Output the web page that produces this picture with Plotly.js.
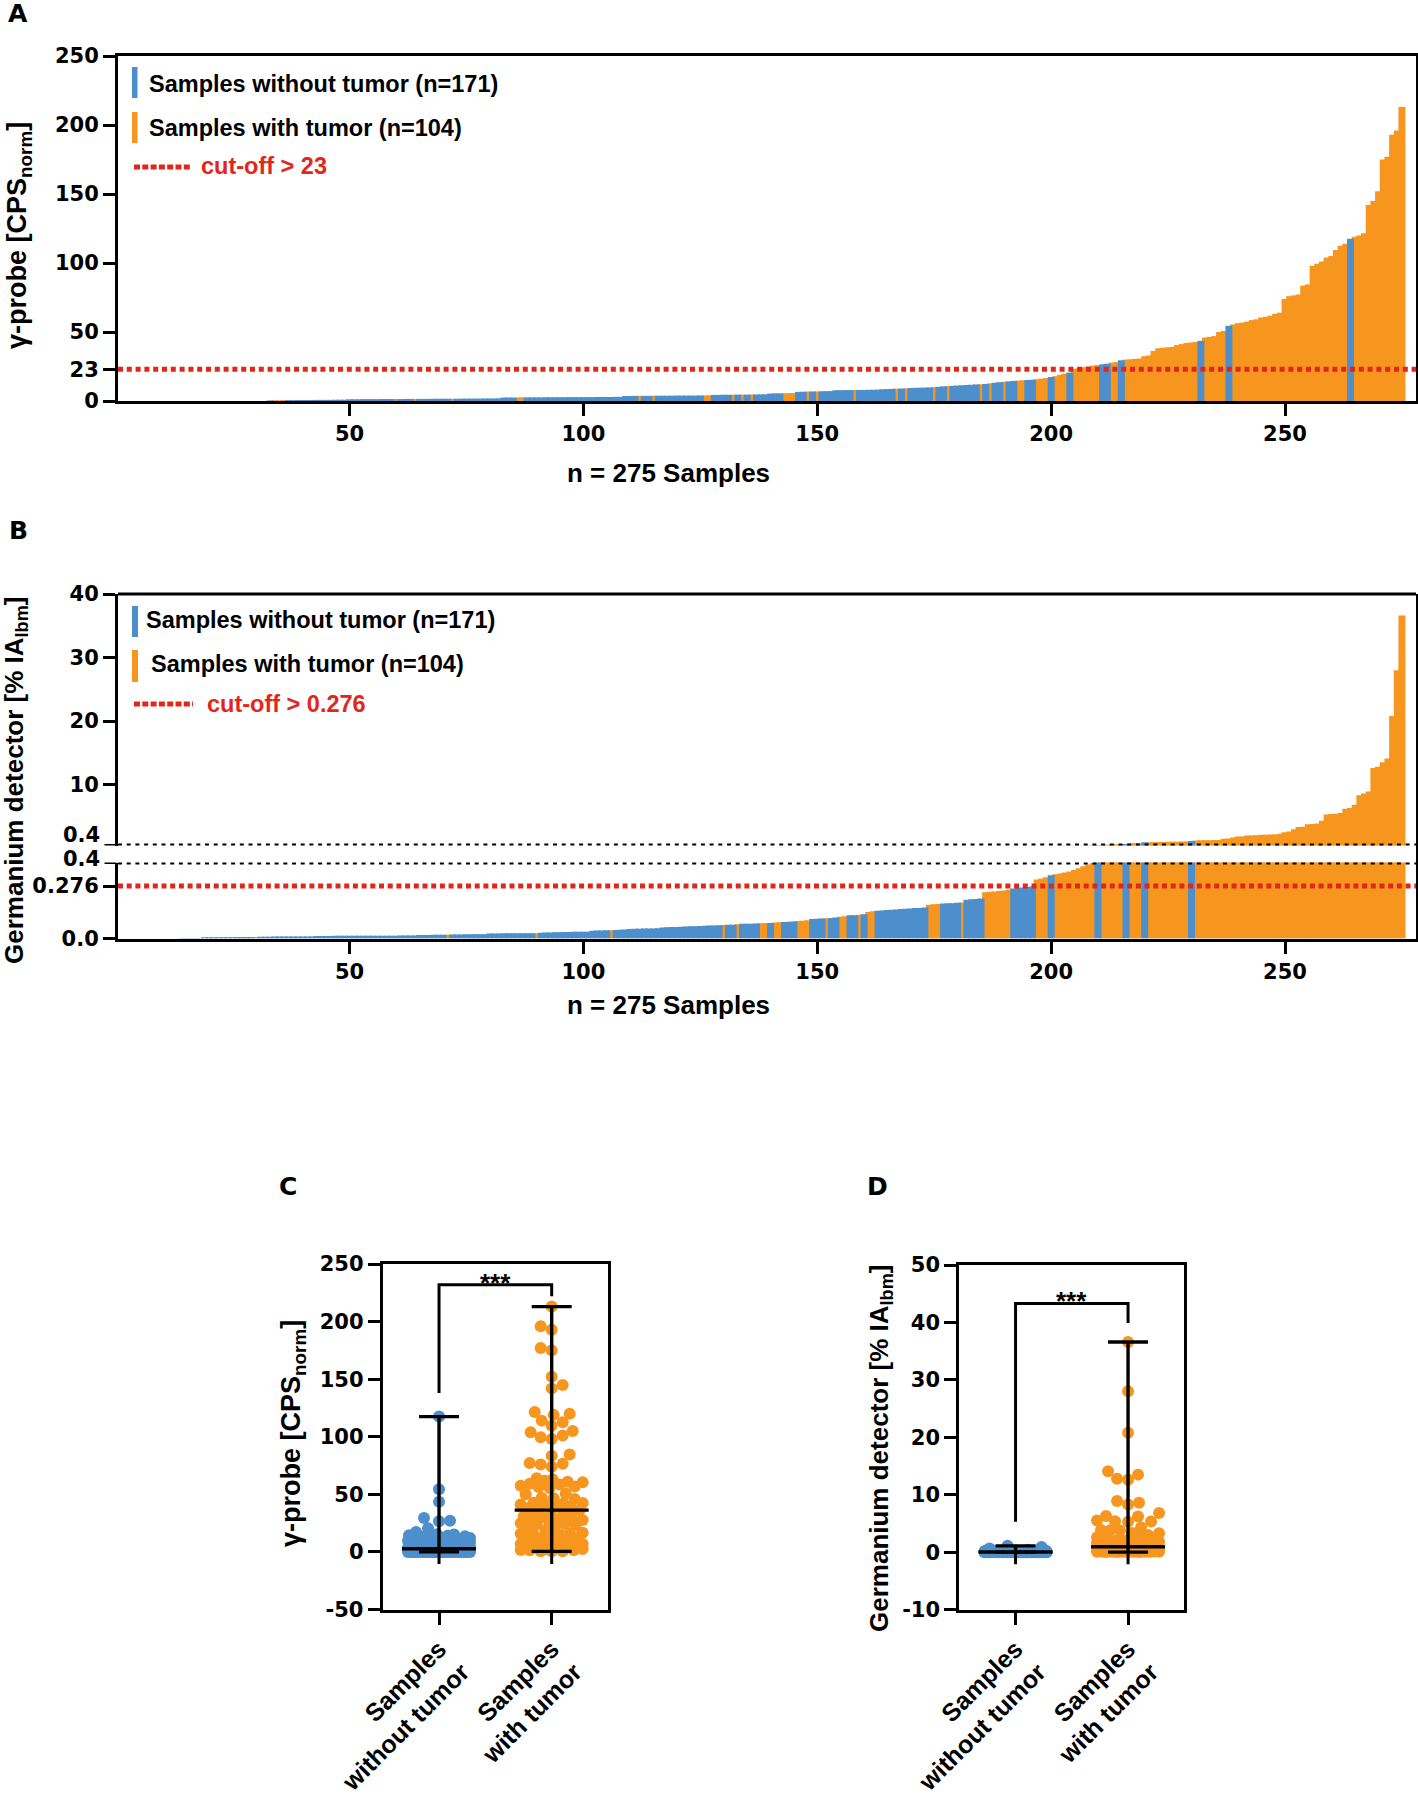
<!DOCTYPE html>
<html>
<head>
<meta charset="utf-8">
<script src="https://cdn.plot.ly/plotly-3.0.1.min.js"></script>
<style>html,body{margin:0;padding:0;background:#fff;}#chart{width:1418px;height:1794px;}</style>
</head>
<body>
<div id="chart"></div>
<script>
// ---------------- DATA ----------------
// Panel A: gamma-probe values of the 275 samples, sorted ascending (rank 1..275)
const gammaValues = [
  0,0,0,0,0,0,0,0,0,0,0,0,0,0,0,0,0,0,0,0,0,0,0,0,0,0,0,0,0,0,0,0,
  0.4,0.5,0.5,0.6,0.6,0.6,0.7,0.7,0.7,0.7,0.8,0.8,0.8,0.8,0.9,0.9,0.9,
  1.2,1.2,1.2,1.3,1.3,1.3,1.3,1.4,1.4,1.4,1.4,1.4,1.5,1.5,1.5,1.5,1.5,1.5,1.6,1.6,1.6,1.6,1.6,1.6,1.7,1.7,1.7,1.7,1.7,1.8,1.8,1.8,1.9,
  2.5,2.5,2.5,2.5,2.6,2.6,2.6,2.6,2.6,2.7,2.7,2.7,2.7,2.7,2.8,2.8,2.8,2.8,2.8,2.8,2.9,2.9,2.9,2.9,3.0,3.0,
  3.6,3.6,3.7,3.7,3.7,3.7,3.8,3.8,3.8,3.8,3.8,3.9,3.9,3.9,3.9,3.9,4.0,4.0,4.1,
  4.4,4.4,4.5,4.5,4.5,4.6,4.6,4.6,4.7,4.7,4.8,4.8,
  5.4,5.5,5.5,5.6,5.7,5.8,
  6.6,6.7,6.8,6.9,6.9,
  7.0,7.1,7.2,
  7.8,7.8,7.9,7.9,8.0,8.0,8.0,8.1,8.1,8.2,
  8.5,8.6,8.8,
  8.9,9.0,9.2,9.4,9.5,9.6,9.7,9.8,
  10.0,10.3,10.6,10.8,
  11.0,11.2,11.4,11.6,11.8,12.0,
  12.1,12.3,12.8,13.2,13.6,13.9,14.2,14.5,14.8,15.0,15.2,15.4,15.8,16.2,16.6,17.4,18.0,19.0,19.8,20.6,
  23.2,23.8,24.5,25.0,25.6,26.0,26.6,27.0,27.8,28.2,29.5,30.0,30.2,30.5,30.8,32.5,33.0,36.3,38.2,38.6,38.9,39.2,40.5,41.2,42.0,42.4,42.8,
  43.6,46.0,46.5,47.0,50.0,50.8,54.5,55.5,56.4,56.8,57.5,58.6,59.2,60.5,61.0,61.8,63.2,64.0,73.9,76.0,76.5,77.2,83.6,84.5,
  98.0,99.5,101.0,104.0,105.0,109.5,112.5,114.0,117.5,119.0,120.0,121.5,142.0,145.0,152.0,175.0,177.0,193.0,196.0,213.0
];
// ranks (in panel A order) of the samples with tumor
const gammaTumorRanks = [
  34,35,36,60,64,72,86,87,112,115,126,127,132,134,136,143,144,145,148,150,158,167,169,175,178,185,187,190,193,194,
  197,198,199,201,202,203,205,206,207,208,209,210,213,214,
  216,217,218,219,220,221,222,223,224,225,226,227,228,229,230,231,
  233,234,235,236,237,
  239,240,241,242,243,244,245,246,247,248,249,250,251,252,253,254,255,256,257,258,259,260,261,262,263,
  265,266,267,268,269,270,271,272,273,274,275
];

// Panel B: germanium detector values, sorted ascending (rank 1..275)
const germValues = [
  0,0,0,0,0,0,0,0,0,0,0,0,0,
  0.002,0.002,0.002,0.002,0.002,
  0.006,0.006,0.006,0.007,0.007,0.007,0.007,0.008,0.008,0.008,0.008,
  0.008,
  0.009,0.009,0.009,0.010,0.010,0.010,0.010,0.011,0.011,0.011,0.011,0.011,
  0.013,0.013,0.013,0.013,0.014,0.014,0.014,0.014,0.014,0.014,0.015,0.015,0.015,0.015,0.015,0.015,0.015,0.015,
  0.016,0.016,0.016,0.016,
  0.019,0.019,0.019,0.020,0.020,0.020,
  0.020,
  0.021,0.021,0.021,0.022,0.022,0.022,0.023,0.023,
  0.026,0.026,0.026,0.027,0.027,0.027,0.027,0.028,0.028,0.028,
  0.028,
  0.030,0.031,0.032,0.033,0.033,0.034,0.034,0.035,0.035,0.036,0.036,
  0.041,0.042,0.042,0.043,
  0.044,
  0.045,0.046,0.047,
  0.050,0.051,0.051,0.052,0.052,0.053,0.054,
  0.058,0.059,0.060,0.061,0.062,0.063,0.064,0.065,0.066,0.067,0.068,0.069,0.070,
  0.071,0.072,0.073,0.075,0.077,0.078,0.078,0.079,0.080,0.081,0.082,0.084,0.085,0.087,0.088,0.089,
  0.092,0.094,0.096,0.102,0.104,0.105,0.106,0.108,0.110,0.115,0.117,0.122,0.123,0.125,0.128,0.140,0.143,
  0.146,0.148,0.150,0.151,0.153,0.155,0.156,0.158,0.160,0.161,0.163,
  0.178,0.180,0.182,0.184,0.185,0.186,0.188,0.190,0.204,0.206,0.208,0.210,
  0.243,0.246,0.248,0.250,0.253,0.256,0.263,0.266,0.268,0.271,0.274,0.310,0.316,0.322,0.333,
  0.338,0.342,0.347,0.352,0.360,0.370,0.380,0.390,0.398,0.42,
  0.45,0.50,0.55,0.58,0.61,0.65,0.70,0.74,0.77,0.90,
  0.92,0.93,0.95,0.96,0.98,0.99,1.00,1.02,1.03,1.10,
  1.20,1.22,1.23,1.24,1.25,1.26,1.45,1.50,1.66,1.80,1.82,1.97,1.99,2.02,2.08,2.10,2.12,2.15,2.24,2.50,2.60,2.97,
  3.30,3.35,3.76,3.80,3.85,4.30,5.30,5.35,5.40,5.50,6.20,6.30,6.80,8.30,8.60,8.90,12.6,12.8,13.5,14.1,20.8,28.0,36.6
];
const germTumorRanks = [
  30,71,90,106,130,133,138,139,141,142,146,147,148,152,155,156,159,161,162,174,175,176,181,
  186,187,188,189,190,191,197,198,199,201,202,203,204,205,206,207,208,209,211,212,213,214,215,217,218,219,
  221,222,223,224,225,226,227,228,229,
  231,232,233,234,235,236,237,238,239,240,241,242,243,244,245,246,247,248,249,250,251,252,253,254,255,256,257,258,259,260,
  261,262,263,264,265,266,267,268,269,270,271,272,273,274,275
];

const groupLabels = ['Samples<br>without tumor', 'Samples<br>with tumor'];
const legendLabels = ['Samples without tumor (n=171)', 'Samples with tumor (n=104)'];
const gammaCutoff = 23;
const germCutoff = 0.276;
const germBreak = 0.4;
const sampleTicks = [50, 100, 150, 200, 250];
const gammaTicks = [0, 23, 50, 100, 150, 200, 250];
const germUpperTicks = [10, 20, 30, 40];
const germLowerTicks = [0, 0.276];
const germLowerTickText = ['0.0', '0.276'];
const breakLabel = '0.4';
const cTicks = [-50, 0, 50, 100, 150, 200, 250];
const cTickText = ['-50', '0', '50', '100', '150', '200', '250'];
const dTicks = [-10, 0, 10, 20, 30, 40, 50];
const dTickText = ['-10', '0', '10', '20', '30', '40', '50'];

if (gammaValues.length !== 275 || germValues.length !== 275) console.warn('length', gammaValues.length, germValues.length);

// ---------------- STYLE / GEOMETRY ----------------
const W = 1418, H = 1794;
const BLUE = '#4d8fcc', ORANGE = '#f7961e', RED = '#e3261c', BLACK = '#000';
const FONT = '"Liberation Sans", Arial, Helvetica, sans-serif';
const NUMFONT = '"DejaVu Sans", "Liberation Sans", Arial, sans-serif';
const G = {
  A: {l: 118, r: 1416, t: 56, b: 401},
  B: {l: 118, r: 1416, t: 594, ub: 845.5, lt: 862.5, b: 938.5},
  C: {l: 382.7, r: 608, t: 1264, b: 1609.5},
  D: {l: 959.3, r: 1184.3, t: 1265, b: 1609.6}
};
const px = x => x / W;
const py = y => 1 - y / H;
const dx = (a, b) => [px(a), px(b)];
const dy = (t, b) => [py(b), py(t)];

function split(values, tumorRanks) {
  const s = new Set(tumorRanks);
  const o = {x: [], y: []}, b = {x: [], y: []};
  values.forEach((v, i) => { const r = i + 1; const t = s.has(r) ? o : b; t.x.push(r); t.y.push(v); });
  return {o, b};
}
const gam = split(gammaValues, gammaTumorRanks);
const ger = split(germValues, germTumorRanks);

function bar(d, color, xa, ya) {
  return {type: 'bar', x: d.x, y: d.y, width: 1.5, marker: {color: color, line: {width: 0}},
          xaxis: xa, yaxis: ya, hoverinfo: 'skip', showlegend: false};
}

// beeswarm layout (pixel space) for the dot plots
function swarm(vals, center, pxX, pxY, d, maxHalf) {
  const sorted = vals.slice().sort((a, b) => a - b);
  const placed = [], xs = [], ys = [];
  let flip = 1;
  for (const v of sorted) {
    const yy = v * pxY;
    const near = placed.filter(p => Math.abs(p.y - yy) < d);
    let chosen = null;
    for (let k = 0; k <= maxHalf && chosen === null; k++) {
      const cands = k === 0 ? [0] : [flip * k, -flip * k];
      for (const c of cands) {
        if (near.every(p => Math.hypot(p.x - c, p.y - yy) >= d)) { chosen = c; break; }
      }
    }
    if (chosen === null) {
      let best = -1;
      for (let c = -maxHalf; c <= maxHalf; c++) {
        let m = Infinity;
        for (const p of near) m = Math.min(m, Math.hypot(p.x - c, p.y - yy));
        if (m > best + 1e-9 || (Math.abs(m - best) < 1e-9 && Math.abs(c) < Math.abs(chosen))) { best = m; chosen = c; }
      }
    }
    flip = -flip;
    placed.push({x: chosen, y: yy});
    xs.push(center + chosen / pxX); ys.push(v);
  }
  return {x: xs, y: ys};
}
function stats(vals) {
  const s = vals.slice().sort((a, b) => a - b);
  const n = s.length;
  const med = n % 2 ? s[(n - 1) / 2] : (s[n / 2 - 1] + s[n / 2]) / 2;
  return {min: s[0], max: s[n - 1], med: med};
}

const traces = [];
// Panel A
traces.push(bar(gam.o, ORANGE, 'x', 'y'));
traces.push(bar(gam.b, BLUE, 'x', 'y'));
// Panel B (broken axis: upper y2, lower y3)
traces.push(bar(ger.o, ORANGE, 'x2', 'y2'));
traces.push(bar(ger.b, BLUE, 'x2', 'y2'));
traces.push(bar(ger.o, ORANGE, 'x2', 'y3'));
traces.push(bar(ger.b, BLUE, 'x2', 'y3'));

// Panels C and D: dot plots with median and range
function dotPanel(bVals, oVals, geom, yRange, xa, ya) {
  const pxX = (geom.r - geom.l) / 2;
  const pxY = (geom.b - geom.t) / (yRange[1] - yRange[0]);
  const sb = swarm(bVals, 0, pxX, pxY, 11, 31);
  const so = swarm(oVals, 1, pxX, pxY, 11, 31);
  traces.push({type: 'scatter', mode: 'markers', x: sb.x, y: sb.y, xaxis: xa, yaxis: ya,
    marker: {color: BLUE, size: 12, line: {width: 0}}, hoverinfo: 'skip', showlegend: false});
  traces.push({type: 'scatter', mode: 'markers', x: so.x, y: so.y, xaxis: xa, yaxis: ya,
    marker: {color: ORANGE, size: 12, line: {width: 0}}, hoverinfo: 'skip', showlegend: false});
  const cap = 20 / pxX, med = 37 / pxX;
  [bVals, oVals].forEach((vals, g) => {
    const s = stats(vals);
    traces.push({type: 'scatter', mode: 'lines', xaxis: xa, yaxis: ya, hoverinfo: 'skip', showlegend: false,
      line: {color: BLACK, width: 3.4},
      x: [g, g, null, g - cap, g + cap, null, g - cap, g + cap, null, g - med, g + med],
      y: [s.min, s.max, null, s.max, s.max, null, s.min, s.min, null, s.med, s.med]});
  });
}
dotPanel(gam.b.y, gam.o.y, G.C, [-50, 250], 'x4', 'y4');
dotPanel(ger.b.y, ger.o.y, G.D, [-10, 50], 'x5', 'y5');

// significance brackets
const cBracket = {top: 232, left: 138, right: 222};
const dBracket = {top: 43.3, left: 5.3, right: 39.9};
[[cBracket, 'x4', 'y4'], [dBracket, 'x5', 'y5']].forEach(([b, xa, ya]) => {
  traces.push({type: 'scatter', mode: 'lines', xaxis: xa, yaxis: ya, hoverinfo: 'skip', showlegend: false,
    line: {color: BLACK, width: 3}, x: [0, 0, 1, 1], y: [b.left, b.top, b.top, b.right]});
});

// ---------------- AXES ----------------
const tickfont = {family: NUMFONT, size: 21, color: BLACK, weight: 'bold'};
const catfont = {family: FONT, size: 25, color: BLACK, weight: 'bold'};
const base = {showline: true, linewidth: 3, linecolor: BLACK, ticks: 'outside', ticklen: 12, tickwidth: 3,
  tickcolor: BLACK, showgrid: false, zeroline: false, tickfont: tickfont, fixedrange: true};

const layout = {
  width: W, height: H, margin: {l: 0, r: 0, t: 0, b: 0}, paper_bgcolor: '#fff', plot_bgcolor: 'rgba(0,0,0,0)',
  barmode: 'overlay', showlegend: false, font: {family: FONT, color: BLACK},
  xaxis: Object.assign({}, base, {domain: dx(G.A.l, G.A.r), range: [0.5, 278], tickvals: sampleTicks, anchor: 'y', mirror: true}),
  yaxis: Object.assign({}, base, {domain: dy(G.A.t, G.A.b), range: [0, 250], tickvals: gammaTicks, anchor: 'x', mirror: true}),
  xaxis2: Object.assign({}, base, {domain: dx(G.B.l, G.B.r), range: [0.5, 278], tickvals: sampleTicks, anchor: 'y3'}),
  yaxis2: Object.assign({}, base, {domain: dy(G.B.t, G.B.ub), range: [germBreak, 40], tickvals: germUpperTicks, anchor: 'x2', mirror: true}),
  yaxis3: Object.assign({}, base, {domain: dy(G.B.lt, G.B.b), range: [0, germBreak], tickvals: germLowerTicks, ticktext: germLowerTickText, anchor: 'x2', mirror: true}),
  xaxis4: Object.assign({}, base, {domain: dx(G.C.l, G.C.r), range: [-0.5, 1.5], tickvals: [0, 1], ticktext: groupLabels, tickangle: -45, anchor: 'y4', mirror: true, tickfont: catfont}),
  yaxis4: Object.assign({}, base, {domain: dy(G.C.t, G.C.b), range: [-50, 250], tickvals: cTicks, ticktext: cTickText, anchor: 'x4', mirror: true}),
  xaxis5: Object.assign({}, base, {domain: dx(G.D.l, G.D.r), range: [-0.5, 1.5], tickvals: [0, 1], ticktext: groupLabels, tickangle: -45, anchor: 'y5', mirror: true, tickfont: catfont}),
  yaxis5: Object.assign({}, base, {domain: dy(G.D.t, G.D.b), range: [-10, 50], tickvals: dTicks, ticktext: dTickText, anchor: 'x5', mirror: true})
};

// ---------------- SHAPES ----------------
const shapes = [];
const dotted = (xref, yref, y, color, w, dash) => ({type: 'line', xref: xref, yref: yref, x0: 0, x1: 1, y0: y, y1: y,
  line: {color: color, width: w, dash: dash}, layer: 'above'});
shapes.push(dotted('x domain', 'y', gammaCutoff, RED, 5.2, '5px,3.8px'));
shapes.push(dotted('x2 domain', 'y3', germCutoff, RED, 5, '5px,3.7px'));
shapes.push(dotted('x2 domain', 'y2', germBreak, BLACK, 4, '4px,4.7px'));
shapes.push(dotted('x2 domain', 'y3', germBreak, BLACK, 4, '4px,4.7px'));
// tick marks at the axis break (0.4 on both segments)
['y2', 'y3'].forEach(ya => shapes.push({type: 'line', xref: 'x2 domain', yref: ya, xsizemode: 'pixel', xanchor: 0,
  x0: -13.5, x1: -1.5, y0: germBreak, y1: germBreak, line: {color: BLACK, width: 3}}));
// top border and right border of panel B
shapes.push({type: 'line', xref: 'x2 domain', yref: 'y2 domain', x0: 0, x1: 1, y0: 1, y1: 1, line: {color: BLACK, width: 3}});
shapes.push({type: 'line', xref: 'paper', yref: 'paper', x0: px(G.B.r + 1.5), x1: px(G.B.r + 1.5), y0: py(G.B.b), y1: py(G.B.t), line: {color: BLACK, width: 3}});
// legend swatches
function swatch(x0, x1, yt, yb, color) {
  shapes.push({type: 'rect', xref: 'paper', yref: 'paper', x0: px(x0), x1: px(x1), y0: py(yb), y1: py(yt), fillcolor: color, line: {width: 0}});
}
swatch(132, 137.5, 67, 98, BLUE);
swatch(132, 137.5, 112, 143, ORANGE);
shapes.push({type: 'line', xref: 'paper', yref: 'paper', x0: px(134), x1: px(191), y0: py(167), y1: py(167), line: {color: RED, width: 4.8, dash: '6px,2.3px'}});
swatch(132, 138, 606, 637, BLUE);
swatch(132, 138, 650, 682, ORANGE);
shapes.push({type: 'line', xref: 'paper', yref: 'paper', x0: px(134), x1: px(193), y0: py(704), y1: py(704), line: {color: RED, width: 4.8, dash: '6px,2.3px'}});
// short tick marks below y=0 at each group in C and D
[['x4', 'y4'], ['x5', 'y5']].forEach(([xa, ya]) => {
  [0, 1].forEach(g => shapes.push({type: 'line', xref: xa, yref: ya, x0: g, x1: g, ysizemode: 'pixel', yanchor: 0, y0: 0, y1: -12,
    line: {color: BLACK, width: 3}}));
});
layout.shapes = shapes;

// ---------------- ANNOTATIONS ----------------
const annotations = [];
function ann(text, x, y, o) {
  o = o || {};
  annotations.push({text: text, xref: 'paper', yref: 'paper', x: px(x), y: py(y), showarrow: false,
    xanchor: o.xanchor || 'center', yanchor: o.yanchor || 'middle', textangle: o.angle || 0,
    font: {family: o.family || FONT, size: o.size || 23.5, color: o.color || BLACK, weight: 'bold'}});
}
ann('A', 18, 14, {size: 25, family: NUMFONT});
ann('B', 18, 530, {size: 25, family: NUMFONT});
ann('C', 288, 1186, {size: 25, family: NUMFONT});
ann('D', 877, 1186, {size: 25, family: NUMFONT});
ann(legendLabels[0], 147, 84, {xanchor: 'left'});
ann(legendLabels[1], 147, 128, {xanchor: 'left'});
ann('cut-off &gt; ' + gammaCutoff, 199, 166, {xanchor: 'left', color: RED});
ann(legendLabels[0], 144, 620, {xanchor: 'left'});
ann(legendLabels[1], 149, 664, {xanchor: 'left'});
ann('cut-off &gt; ' + germCutoff, 205, 704, {xanchor: 'left', color: RED});
// break-axis labels (shifted apart as in the original)
ann(breakLabel, 102, 835, {xanchor: 'right', size: 21, family: NUMFONT});
ann(breakLabel, 102, 859, {xanchor: 'right', size: 21, family: NUMFONT});
ann('γ-probe [CPS<sub>norm</sub>]', 19, 236, {angle: -90, size: 27});
ann('Germanium detector [% IA<sub>lbm</sub>]', 16, 780, {angle: -90, size: 26});
ann('γ-probe [CPS<sub>norm</sub>]', 293, 1434, {angle: -90, size: 27});
ann('Germanium detector [% IA<sub>lbm</sub>]', 880, 1448, {angle: -90, size: 26});
ann('n = 275 Samples', 668, 473, {size: 26});
ann('n = 275 Samples', 668, 1005, {size: 26});
[[cBracket, 'x4', 'y4'], [dBracket, 'x5', 'y5']].forEach(([b, xa, ya]) => {
  annotations.push({text: '***', xref: xa, yref: ya, x: 0.5, y: b.top, yshift: 2, showarrow: false,
    xanchor: 'center', yanchor: 'middle', font: {family: FONT, size: 26, color: BLACK, weight: 'bold'}});
});
layout.annotations = annotations;

Plotly.newPlot('chart', traces, layout, {staticPlot: true, displayModeBar: false});
</script>
</body>
</html>
